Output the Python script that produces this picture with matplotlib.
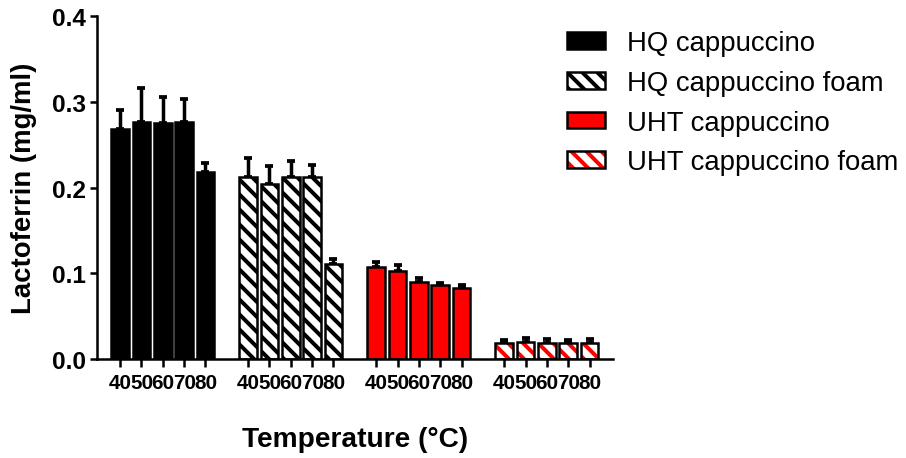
import numpy as np
import matplotlib
matplotlib.use("Agg")
import matplotlib.pyplot as plt
from matplotlib.patches import Patch
from matplotlib.legend_handler import HandlerTuple

# Temperatures (°C) tested for each sample type
temps = ["40", "50", "60", "70", "80"]

series_names = ["HQ cappuccino", "HQ cappuccino foam",
                "UHT cappuccino", "UHT cappuccino foam"]

# Lactoferrin concentration (mg/ml), mean and SD
hq_cappuccino = [0.268, 0.277, 0.276, 0.277, 0.218]
hq_cappuccino_err = [0.023, 0.039, 0.030, 0.027, 0.011]

hq_foam = [0.212, 0.204, 0.212, 0.212, 0.111]
hq_foam_err = [0.023, 0.021, 0.019, 0.015, 0.006]

uht_cappuccino = [0.107, 0.103, 0.090, 0.086, 0.083]
uht_cappuccino_err = [0.006, 0.007, 0.004, 0.003, 0.003]

uht_foam = [0.019, 0.020, 0.019, 0.019, 0.019]
uht_foam_err = [0.003, 0.005, 0.004, 0.003, 0.004]

DPI = 90
plt.rcParams["font.family"] = ["Liberation Sans", "DejaVu Sans"]
plt.rcParams["hatch.linewidth"] = 3.2

fig = plt.figure(figsize=(906 / DPI, 459 / DPI), dpi=DPI)
ax = fig.add_axes([0.1067, 0.2157, 0.6766 - 0.1067, 0.9623 - 0.2157])

RED = "#ff0000"
HATCH = "\\\\"
bar_w = 0.82
edge_lw = 2.0
n = len(temps)

groups = [
    (hq_cappuccino, hq_cappuccino_err, dict(color="black", edgecolor="black")),
    (hq_foam, hq_foam_err, dict(color="white", edgecolor="black", hatch=HATCH)),
    (uht_cappuccino, uht_cappuccino_err, dict(color=RED, edgecolor="black")),
    (uht_foam, uht_foam_err, None),
]

all_pos = []
for g, (vals, errs, style) in enumerate(groups):
    pos = np.arange(n) + g * (n + 1)
    all_pos.extend(pos)
    ax.errorbar(pos, vals, yerr=[np.zeros(n), errs], fmt="none",
                ecolor="black", elinewidth=2.8, capsize=3.0, capthick=3.0,
                zorder=1)
    if style is not None:
        ax.bar(pos, vals, width=bar_w, linewidth=edge_lw, zorder=2, **style)
    else:
        # red stripes on white, then a black outline on top
        ax.bar(pos, vals, width=bar_w, color="white", edgecolor=RED,
               hatch=HATCH, linewidth=0, zorder=2)
        ax.bar(pos, vals, width=bar_w, fill=False, edgecolor="black",
               linewidth=edge_lw, zorder=3)

ax.set_xlim(-1.1, 3 * (n + 1) + n - 1 + 1.1)
ax.set_ylim(0, 0.4)
ax.set_yticks([0.0, 0.1, 0.2, 0.3, 0.4])
ax.set_yticklabels(["0.0", "0.1", "0.2", "0.3", "0.4"])
ax.set_xticks(all_pos)
ax.set_xticklabels(temps * len(groups))

for s in ["top", "right"]:
    ax.spines[s].set_visible(False)
for s in ["left", "bottom"]:
    ax.spines[s].set_linewidth(2.0)

ax.tick_params(axis="y", length=5.6, width=2.0, pad=3, labelsize=19.5)
ax.tick_params(axis="x", length=6.4, width=2.0, pad=5, labelsize=16.5)
for lab in ax.get_xticklabels() + ax.get_yticklabels():
    lab.set_fontweight("bold")

ax.set_ylabel("Lactoferrin (mg/ml)", fontsize=22, fontweight="bold", labelpad=12)
ax.set_xlabel("Temperature (°C)", fontsize=22.5, fontweight="bold", labelpad=27)

h1 = Patch(facecolor="black", edgecolor="black", linewidth=edge_lw)
h2 = Patch(facecolor="white", edgecolor="black", hatch=HATCH, linewidth=edge_lw)
h3 = Patch(facecolor=RED, edgecolor="black", linewidth=edge_lw)
h4 = (Patch(facecolor="white", edgecolor=RED, hatch=HATCH, linewidth=0),
      Patch(fill=False, edgecolor="black", linewidth=edge_lw))

fig.legend([h1, h2, h3, h4], series_names,
           handler_map={tuple: HandlerTuple(ndivide=1, pad=0)},
           loc="upper left", bbox_to_anchor=(0.626, 0.932),
           frameon=False, fontsize=22, borderpad=0, borderaxespad=0,
           handlelength=1.38, handleheight=0.55, handletextpad=0.8,
           labelspacing=0.5)

fig.savefig("out.png", dpi=DPI)
